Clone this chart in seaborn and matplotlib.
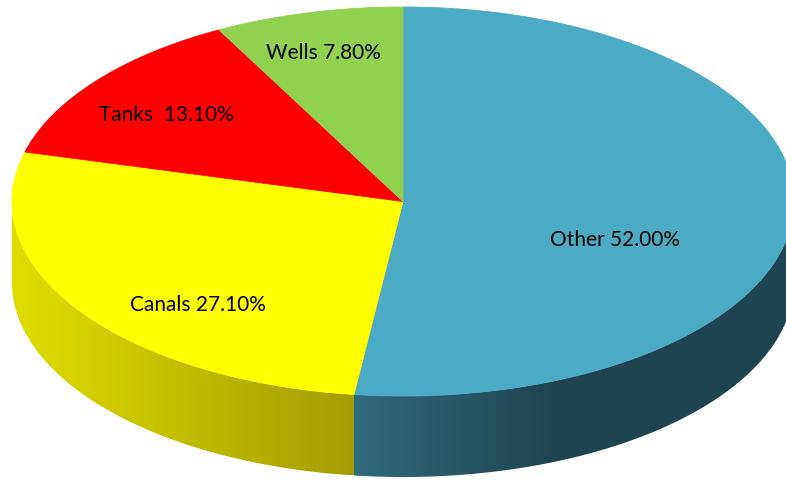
import numpy as np
import matplotlib
matplotlib.use("Agg")
import matplotlib.pyplot as plt
from matplotlib.patches import Polygon
from matplotlib.colors import LinearSegmentedColormap
import seaborn as sns

# data
sources = ["Other", "Canals", "Tanks", "Wells"]
shares = [52.0, 27.1, 13.1, 7.8]
label_texts = ["Other 52.00%", "Canals 27.10%", "Tanks  13.10%", "Wells 7.80%"]
top_colors = ["#4baac5", "#ffff00", "#ff0000", "#92d050"]
side_colors = [("#306b7b", "#1f4450"), ("#dede00", "#a49d00"), ("#c00000", "#800000"), ("#6f9e3c", "#4f7a28")]

sns.set_theme(style="white")
plt.rcParams["font.family"] = ["Lato", "DejaVu Sans"]

# geometry of the tilted pie (pixel units)
cx, cy = 403, 202.5
rx, ry = 391, 194.5
depth = 81

fig = plt.figure(figsize=(7.86, 4.81), dpi=100)
ax = fig.add_axes([0, 0, 1, 1])
ax.set_xlim(0, 786)
ax.set_ylim(481, 0)
ax.axis("off")


def ellipse_pts(t0, t1, n=300):
    t = np.radians(np.linspace(t0, t1, n))
    return cx + rx * np.cos(t), cy - ry * np.sin(t)


# wedges go clockwise starting at 12 o'clock
angles = []
start = 90.0
for s in shares:
    end = start - s / 100 * 360
    angles.append((start, end))
    start = end

# side walls (only the front half is visible)
for i, ((a0, a1), (c_left, c_right)) in enumerate(zip(angles, side_colors)):
    lo, hi = max(a1, -180), min(a0, 0)
    if lo >= hi:
        continue
    xs, ys = ellipse_pts(lo, hi)
    verts = np.column_stack([np.r_[xs, xs[::-1]], np.r_[ys, ys[::-1] + depth]])
    poly = Polygon(verts, closed=True, facecolor="none", edgecolor="none")
    ax.add_patch(poly)
    x0, x1 = xs.min(), xs.max()
    cmap = LinearSegmentedColormap.from_list("side", [c_left, c_right])
    grad = np.linspace(0, 1, 256)
    if i == 0:
        # the big slice darkens quickly then stays flat
        grad = np.clip(grad * 2.2, 0, 1)
    img = ax.imshow(grad[None, :], cmap=cmap, aspect="auto",
                    extent=[x0, x1, ys.max() + depth, ys.min()], zorder=1)
    img.set_clip_path(poly)

# top faces
for (a0, a1), col in zip(angles, top_colors):
    xs, ys = ellipse_pts(a0, a1)
    verts = np.column_stack([np.r_[cx, xs], np.r_[cy, ys]])
    ax.add_patch(Polygon(verts, closed=True, facecolor=col, edgecolor=col,
                         linewidth=0.6, zorder=2))

ax.set_xlim(0, 786)
ax.set_ylim(481, 0)

label_pos = [(615, 240), (198, 305), (166, 115), (323, 53)]
for txt, (x, y) in zip(label_texts, label_pos):
    ax.text(x, y, txt, ha="center", va="center", fontsize=15, color="black", zorder=3)

fig.savefig("out.png", dpi=100, facecolor="white")
